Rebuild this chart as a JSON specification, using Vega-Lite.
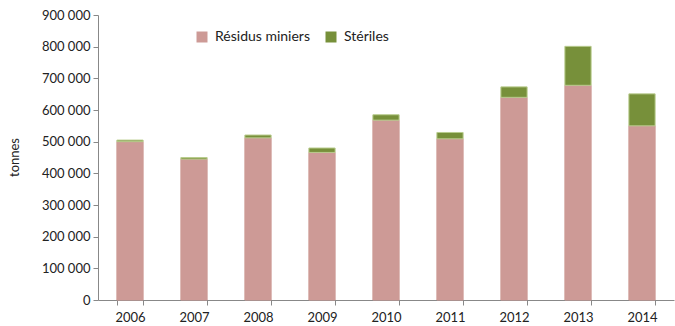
{
  "$schema": "https://vega.github.io/schema/vega-lite/v6.json",
  "autosize": {"type": "none"},
  "padding": {"left": 98, "top": 15, "right": 1, "bottom": 26},
  "width": 576,
  "height": 285,
  "background": "white",
  "config": {
    "view": {"stroke": null},
    "font": "Lato",
    "axis": {"labelFont": "Lato", "titleFont": "Lato", "labelFontSize": 13, "labelColor": "#222", "domainColor": "#888", "tickColor": "#888", "grid": false}
  },
  "data": {
    "values": [
      {"year": "2006", "type": "Résidus miniers", "t": 500000},
      {"year": "2006", "type": "Stériles", "t": 5000},
      {"year": "2007", "type": "Résidus miniers", "t": 445000},
      {"year": "2007", "type": "Stériles", "t": 5000},
      {"year": "2008", "type": "Résidus miniers", "t": 512000},
      {"year": "2008", "type": "Stériles", "t": 9000},
      {"year": "2009", "type": "Résidus miniers", "t": 466000},
      {"year": "2009", "type": "Stériles", "t": 14000},
      {"year": "2010", "type": "Résidus miniers", "t": 568000},
      {"year": "2010", "type": "Stériles", "t": 17000},
      {"year": "2011", "type": "Résidus miniers", "t": 509000},
      {"year": "2011", "type": "Stériles", "t": 20000},
      {"year": "2012", "type": "Résidus miniers", "t": 640000},
      {"year": "2012", "type": "Stériles", "t": 33000},
      {"year": "2013", "type": "Résidus miniers", "t": 678000},
      {"year": "2013", "type": "Stériles", "t": 123000},
      {"year": "2014", "type": "Résidus miniers", "t": 550000},
      {"year": "2014", "type": "Stériles", "t": 101000}
    ]
  },
  "mark": {"type": "bar", "strokeWidth": 1},
  "encoding": {
    "x": {
      "field": "year", "type": "ordinal",
      "scale": {"paddingInner": 0.59, "paddingOuter": 0.295},
      "axis": {"title": null, "labelAngle": 0, "labelPadding": 6, "tickBand": "extent", "tickSize": 5, "labelFontSize": 13}
    },
    "y": {
      "field": "t", "type": "quantitative", "stack": "zero",
      "scale": {"domain": [0, 900000]},
      "axis": {
        "title": "tonnes", "titleFontWeight": "normal", "titleFontSize": 13, "titleColor": "#222",
        "titleX": -84, "titleY": 142, "titleAngle": -90, "titleAlign": "center", "titleBaseline": "middle",
        "values": [0, 100000, 200000, 300000, 400000, 500000, 600000, 700000, 800000, 900000],
        "labelExpr": "replace(format(datum.value, ','), /,/g, ' ')",
        "tickSize": 5, "labelPadding": 3
      }
    },
    "color": {
      "field": "type", "type": "nominal",
      "scale": {"domain": ["Résidus miniers", "Stériles"], "range": ["#CD9A96", "#77903A"]},
      "legend": {
        "title": null, "orient": "none", "direction": "horizontal", "legendX": 97, "legendY": 15,
        "symbolType": "square", "symbolSize": 121, "symbolStrokeWidth": 0, "labelFontSize": 14, "labelColor": "#222",
        "columnPadding": 14, "labelOffset": 6
      }
    },
    "stroke": {
      "field": "type", "type": "nominal",
      "scale": {"domain": ["Résidus miniers", "Stériles"], "range": ["#CD9A96", "#B9CC8E"]},
      "legend": null
    },
    "order": {"field": "type", "sort": "ascending"}
  }
}
